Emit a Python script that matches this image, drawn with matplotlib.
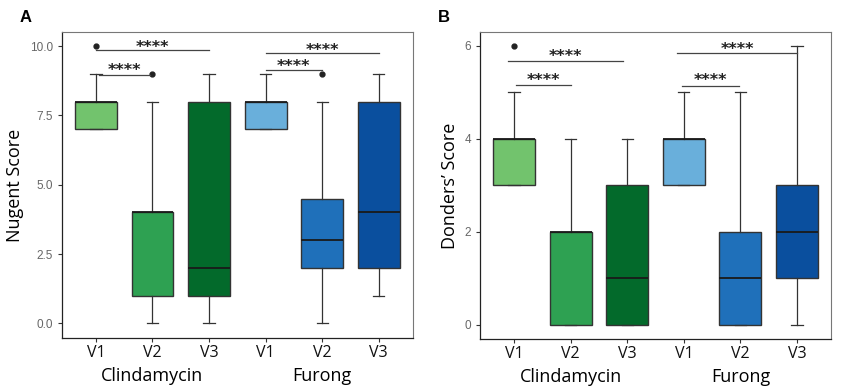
import matplotlib
matplotlib.use('Agg')
from matplotlib import pyplot as plt
from matplotlib import transforms

# x tick labels and groups
visits = ['V1', 'V2', 'V3', 'V1', 'V2', 'V3']
groups = ['Clindamycin', 'Furong']
box_colors = ['#72c36d', '#2ea152', '#036a2b', '#69afdb', '#1f70ba', '#0a4f9e']

# Nugent score boxes: whisker low, Q1, median, Q3, whisker high
nugent_whislo = [7, 0, 0, 7, 0, 1]
nugent_q1 = [7, 1, 1, 7, 2, 2]
nugent_med = [8, 4, 2, 8, 3, 4]
nugent_q3 = [8, 4, 8, 8, 4.5, 8]
nugent_whishi = [9, 8, 9, 9, 8, 9]
nugent_fliers = [[10], [9], [], [], [9], []]

# Donders' score boxes
donders_whislo = [3, 0, 0, 3, 0, 0]
donders_q1 = [3, 0, 0, 3, 0, 1]
donders_med = [4, 2, 1, 4, 1, 2]
donders_q3 = [4, 2, 3, 4, 2, 3]
donders_whishi = [5, 4, 4, 5, 5, 6]
donders_fliers = [[6], [], [], [], [], []]

# significance brackets: x start, x end, line y, star y
nugent_sig = [(1.0, 3.0, 9.87, 9.95), (1.05, 1.95, 8.97, 9.1),
              (4.0, 6.0, 9.75, 9.83), (4.0, 5.0, 9.15, 9.27)]
donders_sig = [(0.9, 2.93, 5.68, 5.77), (1.03, 2.0, 5.16, 5.24),
               (3.88, 6.0, 5.85, 5.92), (3.97, 4.97, 5.14, 5.24)]


def make_stats(lo, q1, med, q3, hi, fliers):
    stats = []
    for i in range(len(lo)):
        stats.append({'whislo': lo[i], 'q1': q1[i], 'med': med[i],
                      'q3': q3[i], 'whishi': hi[i], 'fliers': fliers[i]})
    return stats


def draw_panel(ax, stats, sig, ylim, yticks, yticklabels, ylabel, letter, fig):
    positions = list(range(1, len(stats) + 1))
    bp = ax.bxp(stats, positions=positions, widths=0.74, patch_artist=True,
                showcaps=True,
                boxprops=dict(edgecolor='#333333', linewidth=1.0),
                medianprops=dict(color='#1a1a1a', linewidth=1.3),
                whiskerprops=dict(color='#333333', linewidth=0.9),
                capprops=dict(color='#333333', linewidth=0.9),
                flierprops=dict(marker='o', markerfacecolor='#222222',
                                markeredgecolor='#222222', markersize=3.5))
    for patch, c in zip(bp['boxes'], box_colors):
        patch.set_facecolor(c)
    for cap in bp['caps']:
        x = cap.get_xdata()
        mid = (x[0] + x[1]) / 2
        cap.set_xdata([mid - 0.1, mid + 0.1])

    # brackets with stars
    for x0, x1, yl, ys in sig:
        ax.plot([x0, x1], [yl, yl], color='#444444', linewidth=0.9)
        ax.text((x0 + x1) / 2, ys, '****', ha='center', va='center',
                fontsize=11.5, color='#222222', family='DejaVu Sans',
                fontweight='bold')

    ax.set_xlim(0.4, 6.6)
    ax.set_ylim(*ylim)
    ax.set_yticks(yticks)
    ax.set_yticklabels(yticklabels, fontsize=8.5, color='#666666',
                       family='Liberation Sans')
    ax.set_xticks(positions)
    ax.set_xticklabels(visits, fontsize=11.5, family='Open Sans', color='#111111')
    ax.set_ylabel(ylabel, fontsize=13, family='Open Sans', labelpad=4)
    ax.tick_params(axis='both', length=3, color='#333333', width=0.8)
    ax.tick_params(axis='x', pad=2)
    for side in ['top', 'right']:
        ax.spines[side].set_color('#777777')
        ax.spines[side].set_linewidth(0.8)
    for side in ['left', 'bottom']:
        ax.spines[side].set_color('#222222')
        ax.spines[side].set_linewidth(0.9)

    trans = transforms.blended_transform_factory(ax.transData, ax.transAxes)
    ax.text(2, -0.125, groups[0], transform=trans, ha='center', va='center',
            fontsize=13, family='Open Sans')
    ax.text(5, -0.125, groups[1], transform=trans, ha='center', va='center',
            fontsize=13, family='Open Sans')

    pos = ax.get_position()
    fig.text(pos.x0 - 0.05, 0.955, letter, fontsize=12, fontweight='bold',
             family='Liberation Sans', ha='left', va='center')


def main():
    fig = plt.figure(figsize=(8.41, 3.92), dpi=100)
    ax_a = fig.add_axes([0.0737, 0.138, 0.417, 0.780])
    ax_b = fig.add_axes([0.5710, 0.135, 0.417, 0.783])

    nugent = make_stats(nugent_whislo, nugent_q1, nugent_med, nugent_q3,
                        nugent_whishi, nugent_fliers)
    donders = make_stats(donders_whislo, donders_q1, donders_med, donders_q3,
                         donders_whishi, donders_fliers)

    draw_panel(ax_a, nugent, nugent_sig, (-0.52, 10.5),
               [0, 2.5, 5, 7.5, 10], ['0.0', '2.5', '5.0', '7.5', '10.0'],
               'Nugent Score', 'A', fig)
    draw_panel(ax_b, donders, donders_sig, (-0.31, 6.29),
               [0, 2, 4, 6], ['0', '2', '4', '6'],
               'Donders\u2019 Score', 'B', fig)

    fig.savefig('out.png', dpi=100)


if __name__ == '__main__':
    main()
